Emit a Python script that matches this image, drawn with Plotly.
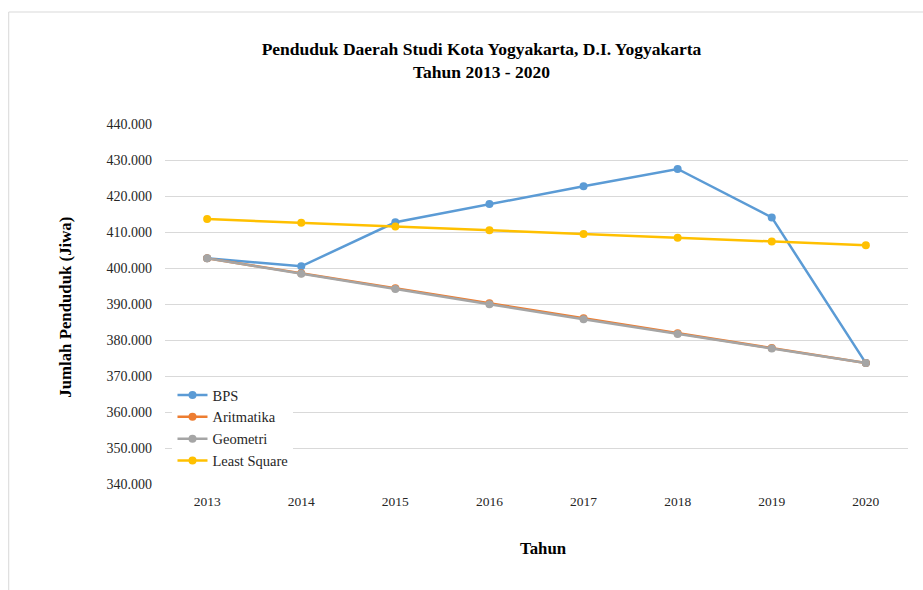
import plotly.graph_objects as go

years = ["2013", "2014", "2015", "2016", "2017", "2018", "2019", "2020"]
bps = [402679, 400467, 412704, 417744, 422732, 427498, 414055, 373589]
aritmatika = [402679, 398523, 394367, 390212, 386056, 381900, 377745, 373589]
geometri = [402679, 398388, 394143, 389943, 385788, 381677, 377610, 373589]
least_square = [413600, 412560, 411520, 410480, 409440, 408400, 407360, 406320]

series = [
    ("BPS", bps, "#5B9BD5"),
    ("Aritmatika", aritmatika, "#ED7D31"),
    ("Geometri", geometri, "#A5A5A5"),
    ("Least Square", least_square, "#FFC000"),
]

W, H = 923, 590
L, R, T, B = 164.5, 14.5, 124, 106
pw, ph = W - L - R, H - T - B

def px(x):
    return (x - L) / pw

def py(y):
    return (H - B - y) / ph

fig = go.Figure()
for name, vals, col in series:
    fig.add_trace(go.Scatter(
        x=years, y=vals, name=name, mode="lines+markers",
        line=dict(color=col, width=2.5),
        marker=dict(color=col, size=8),
    ))

serif = "Liberation Serif, Times New Roman, serif"
fig.update_layout(
    width=W, height=H,
    margin=dict(l=L, r=R, t=T, b=B),
    paper_bgcolor="white", plot_bgcolor="white",
    separators=",.",
    font=dict(family=serif, color="#262626"),
    title=dict(
        text="<b>Penduduk Daerah Studi Kota Yogyakarta, D.I. Yogyakarta<br>Tahun 2013 - 2020</b>",
        x=(258 + 705) / 2 / W, xanchor="center", y=1 - 55 / H, yanchor="middle",
        font=dict(family=serif, size=17.5, color="black"),
    ),
    xaxis=dict(
        type="category", showgrid=False, showline=False, zeroline=False,
        ticks="", tickfont=dict(size=13.5, color="#262626"), ticklabelstandoff=7,
    ),
    yaxis=dict(
        range=[340000, 440000], dtick=10000, tickformat=",d",
        showgrid=True, gridcolor="#D9D9D9", gridwidth=1,
        zeroline=False, showline=False, ticks="",
        tickfont=dict(size=14, color="#262626"), ticklabelstandoff=12,
    ),
    showlegend=True,
    legend=dict(
        x=px(172), y=py(379), xanchor="left", yanchor="top",
        bgcolor="white", font=dict(family=serif, size=14.5, color="#262626"),
        itemwidth=30, tracegroupgap=0,
    ),
    annotations=[
        dict(text="<b>Jumlah Penduduk (Jiwa)</b>", textangle=-90,
             x=px(64), y=py(307), xref="paper", yref="paper",
             xanchor="center", yanchor="middle",
             showarrow=False, font=dict(family=serif, size=16.8, color="black")),
        dict(text="<b>Tahun</b>",
             x=px(544), y=py(548), xref="paper", yref="paper",
             xanchor="center", yanchor="middle",
             showarrow=False, font=dict(family=serif, size=16.8, color="black")),
    ],
    shapes=[
        dict(type="rect", xref="paper", yref="paper",
             x0=px(8), x1=px(930), y0=py(600), y1=py(12),
             line=dict(color="#D9D9D9", width=1), layer="below"),
    ],
)

fig.write_html("out.html")
